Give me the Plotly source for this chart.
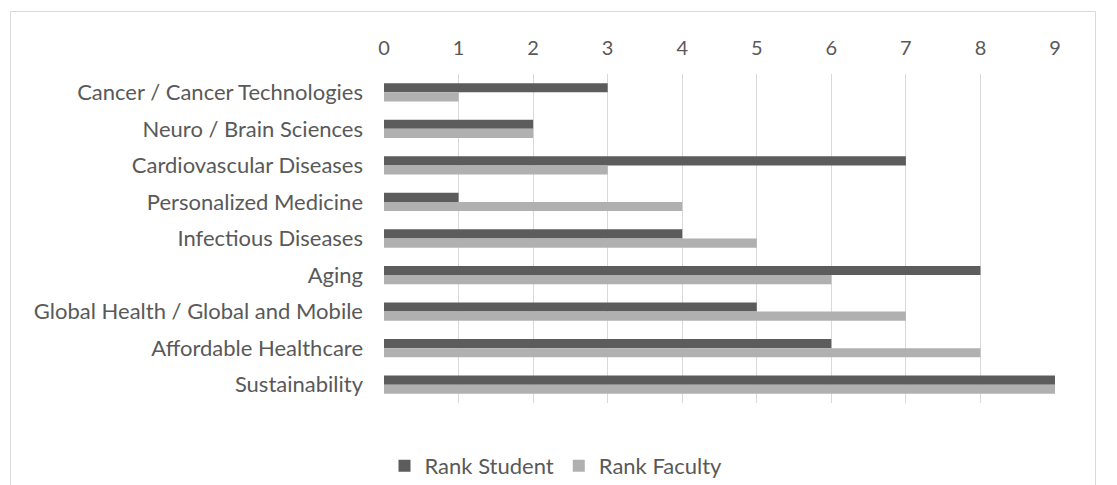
import plotly.graph_objects as go

categories = [
    "Cancer / Cancer Technologies",
    "Neuro / Brain Sciences",
    "Cardiovascular Diseases",
    "Personalized Medicine",
    "Infectious Diseases",
    "Aging",
    "Global Health / Global and Mobile",
    "Affordable Healthcare",
    "Sustainability",
]
rank_student = [3, 2, 7, 1, 4, 8, 5, 6, 9]
rank_faculty = [1, 2, 3, 4, 5, 6, 7, 8, 9]
tick_values = list(range(0, 10))

W, H = 1117, 485
L, R, T, B = 384, 1055, 74, 403

FONT = "Lato"
TEXT = "#595959"

fig = go.Figure()
fig.add_trace(go.Bar(
    y=categories, x=rank_student, orientation="h", name="Rank Student",
    marker=dict(color="#5c5c5c", line=dict(width=0)),
))
fig.add_trace(go.Bar(
    y=categories, x=rank_faculty, orientation="h", name="Rank Faculty",
    marker=dict(color="#b0b0b0", line=dict(width=0)),
))

def px_x(p):
    return (p - L) / (R - L)

def px_y(p):
    return (B - p) / (B - T)

fig.update_layout(
    width=W, height=H,
    margin=dict(l=L, r=W - R, t=T, b=H - B),
    paper_bgcolor="white", plot_bgcolor="white",
    barmode="group", bargap=0.5, bargroupgap=0,
    font=dict(family=FONT, size=20, color=TEXT),
    showlegend=True,
    legend=dict(
        orientation="h", traceorder="normal",
        xref="container", yref="container",
        x=556 / W, y=1 - 466 / H, xanchor="center", yanchor="middle",
        font=dict(size=22, color=TEXT),
        itemwidth=30,
    ),
    xaxis=dict(
        side="top", range=[0, 9], tickvals=tick_values,
        showgrid=True, gridcolor="#d9d9d9", gridwidth=1,
        zeroline=False, showline=False, ticks="",
        ticklabelstandoff=14,
        tickfont=dict(size=20, color=TEXT),
    ),
    yaxis=dict(
        autorange="reversed", showgrid=False, zeroline=False,
        showline=False, ticks="", ticklabelstandoff=20,
        tickfont=dict(size=22, color=TEXT),
    ),
    shapes=[
        dict(
            type="rect", xref="paper", yref="paper",
            x0=px_x(10.5), x1=px_x(1095.5), y0=px_y(500), y1=px_y(11.5),
            line=dict(color="#d9d9d9", width=1), fillcolor="rgba(0,0,0,0)",
            layer="below",
        )
    ],
)

fig.write_html("out.html")
